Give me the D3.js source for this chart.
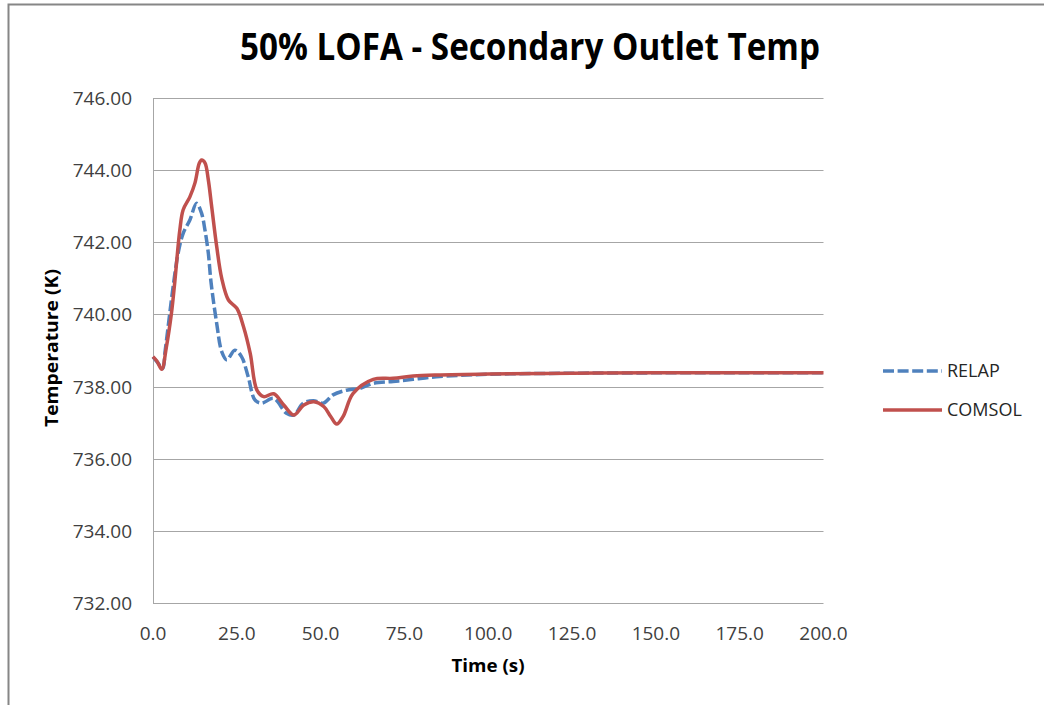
<!DOCTYPE html>
<html>
<head>
<meta charset="utf-8">
<script src="https://cdn.jsdelivr.net/npm/d3@7"></script>
<style>
  body { margin: 0; background: #fff; }
  svg { display: block; font-family: "Open Sans", "DejaVu Sans", sans-serif; }
</style>
</head>
<body>
<div id="chart"></div>
<script>
// series
const relapTime = [0, 1.5, 2.9, 3.6, 5, 6, 7.5, 9, 11, 13, 14.5, 15.5, 16.5, 17.3, 19, 20.5, 22, 24.4, 26.4, 28.4, 30.4, 32.4, 36, 39.8, 42, 44.8, 47.8, 50.8, 53.7, 57.7, 61.7, 65.7, 71.6, 77.6, 84.5, 100, 125, 150, 175, 200];
const relapTemp = [738.82, 738.65, 738.5, 738.97, 740.03, 740.77, 741.7, 742.25, 742.62, 743.08, 742.8, 742.34, 741.7, 740.9, 739.75, 738.97, 738.74, 739.01, 738.83, 738.27, 737.63, 737.54, 737.67, 737.26, 737.21, 737.54, 737.61, 737.54, 737.77, 737.9, 737.95, 738.09, 738.14, 738.2, 738.27, 738.34, 738.37, 738.38, 738.38, 738.38];

const comsolTime = [0, 1.2, 2.6, 4, 5.5, 6.5, 8, 9, 11, 12.5, 13.8, 14.5, 15.5, 16.5, 17.5, 19, 20.5, 22.5, 25, 27, 29, 31, 33, 36, 39, 42, 45, 48, 51, 53, 54.8, 56.7, 59.7, 65.7, 71.6, 77.6, 84.5, 100, 125, 150, 175, 200];
const comsolTemp = [738.83, 738.7, 738.48, 739.1, 740.03, 740.9, 742.34, 742.9, 743.26, 743.64, 744.19, 744.28, 744.2, 743.73, 742.99, 741.88, 741.0, 740.4, 740.17, 739.66, 738.92, 737.9, 737.72, 737.8, 737.49, 737.21, 737.49, 737.58, 737.44, 737.17, 736.96, 737.17, 737.81, 738.2, 738.23, 738.29, 738.32, 738.35, 738.37, 738.38, 738.38, 738.38];

const yTicks = [732, 734, 736, 738, 740, 742, 744, 746];
const xTicks = [0, 25, 50, 75, 100, 125, 150, 175, 200];

const W = 1044, H = 705;
const margin = { top: 98, right: 220, bottom: 102, left: 153 };

const svg = d3.select("#chart").append("svg")
    .attr("width", W)
    .attr("height", H);

// outer chart frame
svg.append("rect")
    .attr("x", 8.5).attr("y", 4.5)
    .attr("width", 1100).attr("height", 800)
    .attr("fill", "none")
    .attr("stroke", "#868686")
    .attr("stroke-width", 2);

const x = d3.scaleLinear().domain([0, 200]).range([margin.left, W - margin.right - 0.5]);
const y = d3.scaleLinear().domain([732, 746]).range([H - margin.bottom, margin.top]);

// gridlines
svg.append("g")
    .selectAll("line")
    .data(yTicks)
    .join("line")
    .attr("x1", x(0)).attr("x2", x(200))
    .attr("y1", d => Math.round(y(d)) + 0.5)
    .attr("y2", d => Math.round(y(d)) + 0.5)
    .attr("stroke", "#a6a6a6")
    .attr("stroke-width", 1);

// left axis line
svg.append("line")
    .attr("x1", x(0) + 0.5).attr("x2", x(0) + 0.5)
    .attr("y1", y(746)).attr("y2", y(732))
    .attr("stroke", "#a6a6a6");

// y tick labels
svg.append("g")
    .selectAll("text")
    .data(yTicks)
    .join("text")
    .attr("x", 132)
    .attr("y", d => y(d) + 7)
    .attr("text-anchor", "end")
    .attr("font-size", 19)
    .attr("fill", "#404040")
    .text(d => d.toFixed(2));

// x tick labels
svg.append("g")
    .selectAll("text")
    .data(xTicks)
    .join("text")
    .attr("x", d => x(d))
    .attr("y", 640)
    .attr("text-anchor", "middle")
    .attr("font-size", 19)
    .attr("fill", "#404040")
    .text(d => d.toFixed(1));

// title
svg.append("text")
    .attr("x", 530).attr("y", 60)
    .attr("text-anchor", "middle")
    .attr("font-size", 37)
    .attr("font-weight", "bold")
    .attr("textLength", 580)
    .attr("lengthAdjust", "spacingAndGlyphs")
    .attr("fill", "#000")
    .text("50% LOFA - Secondary Outlet Temp");

// axis titles
svg.append("text")
    .attr("x", 488).attr("y", 672)
    .attr("text-anchor", "middle")
    .attr("font-size", 18)
    .attr("font-weight", "bold")
    .attr("textLength", 73)
    .attr("lengthAdjust", "spacingAndGlyphs")
    .text("Time (s)");

svg.append("text")
    .attr("transform", "translate(58," + 348 + ") rotate(-90)")
    .attr("text-anchor", "middle")
    .attr("font-size", 18)
    .attr("font-weight", "bold")
    .attr("textLength", 158)
    .attr("lengthAdjust", "spacingAndGlyphs")
    .text("Temperature (K)");

const line = d3.line()
    .x(d => x(d[0]))
    .y(d => y(d[1]))
    .curve(d3.curveCatmullRom.alpha(0.5));

const relap = relapTime.map((t, i) => [t, relapTemp[i]]);
const comsol = comsolTime.map((t, i) => [t, comsolTemp[i]]);

const series = [
    { name: "RELAP", data: relap, color: "#4f81bd", dash: "11,3.6" },
    { name: "COMSOL", data: comsol, color: "#c0504d", dash: null }
];

series.forEach(s => {
    svg.append("path")
        .datum(s.data)
        .attr("d", line)
        .attr("fill", "none")
        .attr("stroke", s.color)
        .attr("stroke-width", 3.5)
        .attr("stroke-linejoin", "round")
        .attr("stroke-dasharray", s.dash);
});

// legend
const legend = svg.append("g");
series.forEach((s, i) => {
    const ly = 371 + i * 39;
    legend.append("line")
        .attr("x1", 883).attr("x2", 942)
        .attr("y1", ly).attr("y2", ly)
        .attr("stroke", s.color)
        .attr("stroke-width", 3.5)
        .attr("stroke-dasharray", s.dash);
    legend.append("text")
        .attr("x", 947).attr("y", ly + 6)
        .attr("font-size", 18)
        .attr("fill", "#262626")
        .text(s.name);
});
</script>
</body>
</html>
